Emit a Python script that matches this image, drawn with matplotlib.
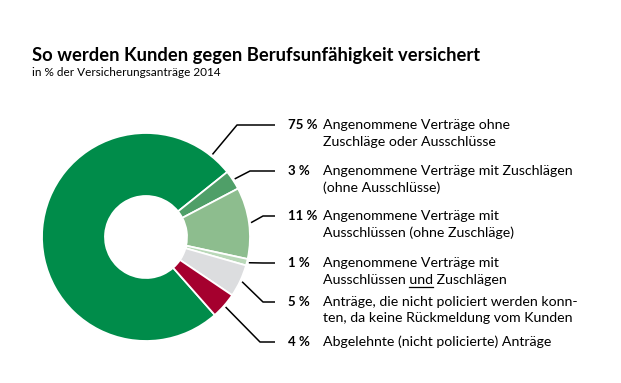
import numpy as np
import matplotlib.pyplot as plt

# data
shares = [75, 3, 11, 1, 5, 4]
pct_labels = ['75 %', '3 %', '11 %', '1 %', '5 %', '4 %']
descriptions = [
    ['Angenommene Verträge ohne', 'Zuschläge oder Ausschlüsse'],
    ['Angenommene Verträge mit Zuschlägen', '(ohne Ausschlüsse)'],
    ['Angenommene Verträge mit', 'Ausschlüssen (ohne Zuschläge)'],
    ['Angenommene Verträge mit', 'Ausschlüssen und Zuschlägen'],
    ['Anträge, die nicht policiert werden konn-', 'ten, da keine Rückmeldung vom Kunden'],
    ['Abgelehnte (nicht policierte) Anträge'],
]
colors = ['#008c4a', '#4f9f68', '#8dbd8e', '#b9d8b8', '#dcdddf', '#a5002e']

W, H = 621, 383
fig = plt.figure(figsize=(W / 100, H / 100), dpi=100)
ax = fig.add_axes([0, 0, 1, 1])

font = 'Lato'
fs = 10.2

# donut
cx, cy, R, r = 146, H - 237, 104, 41
wedges, _ = ax.pie(shares, colors=colors, startangle=-48.6, counterclock=False,
                   center=(cx, cy), radius=R, frame=True,
                   wedgeprops=dict(width=R - r, edgecolor='white', linewidth=1.3))
ax.set_xlim(0, W)
ax.set_ylim(0, H)
ax.axis('off')

# leader lines and labels
label_y = [125, 171, 216, 263, 302, 342]   # image coords, first text line
elbow_x = [237, 250, 263, 263, 263, 260]
line_end = 275
for i, w in enumerate(wedges):
    if i == 0:
        ang = w.theta1 + 12.5
    else:
        ang = (w.theta1 + w.theta2) / 2
    a = np.deg2rad(ang)
    x0 = cx + (R + 2) * np.cos(a)
    y0 = cy + (R + 2) * np.sin(a)
    yl = H - label_y[i]
    ax.plot([x0, elbow_x[i], line_end], [y0, yl, yl], color='black', lw=1.1,
            solid_capstyle='butt')
    ax.text(288, yl, pct_labels[i], fontsize=9.5, fontweight='bold', family=font,
            va='center', ha='left')
    for k, line in enumerate(descriptions[i]):
        ax.text(323, yl - k * 16.5, line, fontsize=fs, family=font,
                va='center', ha='left')

# underline "und"
fig.canvas.draw()
rend = fig.canvas.get_renderer()
yl = H - label_y[3] - 16.5
t1 = ax.text(323, yl, 'Ausschlüssen ', fontsize=fs, family=font, va='center', alpha=0)
t2 = ax.text(323, yl, 'Ausschlüssen und', fontsize=fs, family=font, va='center', alpha=0)
b1 = t1.get_window_extent(rend)
b2 = t2.get_window_extent(rend)
inv = ax.transData.inverted()
xa = inv.transform((b1.x1, 0))[0]
xb = inv.transform((b2.x1, 0))[0]
ax.plot([xa, xb], [yl - 7.5, yl - 7.5], color='black', lw=0.9)

# titles
fig.text(32 / W, 1 - 55 / H, 'So werden Kunden gegen Berufsunfähigkeit versichert',
         fontsize=13.2, fontweight='bold', family=font, va='center', ha='left')
fig.text(32 / W, 1 - 72 / H, 'in % der Versicherungsanträge 2014',
         fontsize=8.5, family=font, va='center', ha='left')

fig.savefig('out.png', dpi=100, facecolor='white')
